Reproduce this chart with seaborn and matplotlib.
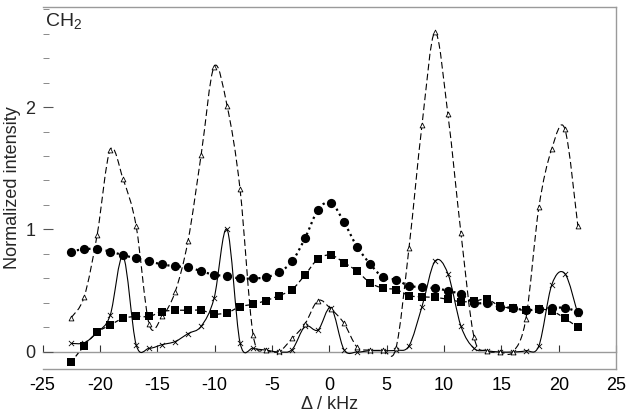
import numpy as np
import matplotlib
matplotlib.use("Agg")
import matplotlib.pyplot as plt
import seaborn as sns
from matplotlib.path import Path
from matplotlib.patches import PathPatch
from matplotlib.ticker import MultipleLocator

# offsets (kHz) shared by all four series
delta = [-22.50, -21.37, -20.24, -19.10, -17.97, -16.84, -15.70, -14.57, -13.44, -12.31,
         -11.17, -10.04, -8.91, -7.78, -6.64, -5.51, -4.38, -3.24, -2.11, -0.98,
         0.15, 1.28, 2.42, 3.55, 4.68, 5.81, 6.95, 8.08, 9.21, 10.34,
         11.48, 12.61, 13.74, 14.87, 16.01, 17.14, 18.27, 19.40, 20.54, 21.67]

circles = [0.82, 0.84, 0.84, 0.82, 0.79, 0.765, 0.74, 0.715, 0.70, 0.69,
           0.66, 0.63, 0.62, 0.60, 0.60, 0.61, 0.65, 0.74, 0.93, 1.16,
           1.22, 1.06, 0.86, 0.72, 0.61, 0.59, 0.54, 0.53, 0.52, 0.50,
           0.47, 0.40, 0.40, 0.37, 0.36, 0.34, 0.35, 0.36, 0.36, 0.33]

squares = [-0.085, 0.05, 0.16, 0.22, 0.275, 0.29, 0.29, 0.33, 0.34, 0.34,
           0.34, 0.31, 0.32, 0.37, 0.39, 0.42, 0.46, 0.51, 0.63, 0.76,
           0.79, 0.73, 0.66, 0.565, 0.52, 0.51, 0.46, 0.45, 0.445, 0.43,
           0.41, 0.415, 0.43, 0.375, 0.355, 0.34, 0.35, 0.335, 0.275, 0.20]

triangles = [0.28, 0.45, 0.955, 1.65, 1.41, 1.03, 0.225, 0.29, 0.49, 0.91,
             1.61, 2.33, 2.01, 1.33, 0.14, 0.02, 0.005, 0.11, 0.23, 0.42,
             0.35, 0.235, 0.04, 0.015, 0.015, 0.03, 0.85, 1.85, 2.61, 1.94,
             0.97, 0.125, 0.01, 0.00, 0.00, 0.27, 1.18, 1.66, 1.82, 1.03]

crosses = [0.07, 0.075, 0.16, 0.30, 0.78, 0.06, 0.03, 0.06, 0.085, 0.15,
           0.21, 0.44, 1.00, 0.076, 0.03, 0.015, 0.0, 0.02, 0.21, 0.18,
           0.36, 0.02, 0.0, 0.01, 0.01, 0.015, 0.05, 0.37, 0.74, 0.64,
           0.21, 0.03, 0.01, 0.0, 0.0, 0.01, 0.05, 0.55, 0.64, 0.31]

x_ticks = [-25, -20, -15, -10, -5, 0, 5, 10, 15, 20, 25]
y_ticks = [0, 1, 2]


def smooth_path(x, y):
    # Excel-style smoothed line: Catmull-Rom segments as cubic Bezier curves
    pts = np.column_stack([x, y])
    n = len(pts)
    verts = [pts[0]]
    codes = [Path.MOVETO]
    for i in range(n - 1):
        p0 = pts[max(i - 1, 0)]
        p1 = pts[i]
        p2 = pts[i + 1]
        p3 = pts[min(i + 2, n - 1)]
        verts += [p1 + (p2 - p0) / 6, p2 - (p3 - p1) / 6, p2]
        codes += [Path.CURVE4] * 3
    return Path(verts, codes)


def add_line(ax, y, **kw):
    patch = PathPatch(smooth_path(delta, y), fill=False, edgecolor="black",
                      capstyle="butt", **kw)
    ax.add_patch(patch)


sns.set_theme(style="white")
plt.rcParams["font.family"] = ["Liberation Sans", "DejaVu Sans"]
plt.rcParams["mathtext.fontset"] = "custom"
plt.rcParams["mathtext.rm"] = "Liberation Sans"
plt.rcParams["mathtext.default"] = "regular"

fig = plt.figure(figsize=(6.29, 4.16), dpi=100)
ax = fig.add_axes([0.0676, 0.113, 0.9118, 0.870])

ymin, ymax = -0.139, 2.816
ax.set_xlim(-25, 25)
ax.set_ylim(ymin, ymax)

# lines first, markers on top
add_line(ax, crosses, linewidth=0.8, linestyle="-", zorder=3)
add_line(ax, triangles, linewidth=0.8, linestyle=(0, (6, 3)), zorder=3)
add_line(ax, squares, linewidth=0.9, linestyle=(0, (3.5, 2.5)), zorder=3)
add_line(ax, circles, linewidth=1.6, linestyle=(0, (1, 1.6)), zorder=3)

sns.scatterplot(x=delta, y=crosses, marker="x", s=14, color="black",
                linewidth=0.6, ax=ax, zorder=4)
sns.scatterplot(x=delta, y=triangles, marker="^", s=12, facecolor="white",
                edgecolor="black", linewidth=0.6, ax=ax, zorder=4)
sns.scatterplot(x=delta, y=squares, marker="s", s=40, color="black",
                edgecolor="black", linewidth=0, ax=ax, zorder=5)
sns.scatterplot(x=delta, y=circles, marker="o", s=44, color="black",
                edgecolor="black", linewidth=0, ax=ax, zorder=5)

# frame
frame_col = "#9a9a9a"
for side in ["top", "right", "bottom"]:
    ax.spines[side].set_color(frame_col)
    ax.spines[side].set_linewidth(1.0)
ax.spines["left"].set_visible(False)

ax.set_xticks(x_ticks)
ax.set_xticklabels([str(t) for t in x_ticks])
ax.tick_params(axis="x", length=0, pad=6, labelsize=13, colors="black")
ax.set_yticks(y_ticks)
ax.yaxis.set_minor_locator(MultipleLocator(0.2))
ax.tick_params(axis="y", which="major", direction="in", length=7, width=0.8,
               color="#555555", pad=5, labelsize=13, left=True)
ax.tick_params(axis="y", which="minor", direction="in", length=4, width=0.6,
               color="#777777", left=True)

# zero line with its own tick marks
zero_pos = (0 - ymin) / (ymax - ymin)
sec = ax.secondary_xaxis(zero_pos)
sec.set_xticks(x_ticks)
sec.tick_params(axis="x", direction="in", length=5, width=0.8, color="#333333",
                labelbottom=False, labeltop=False)
sec.spines["bottom"].set_color(frame_col)
sec.spines["bottom"].set_linewidth(1.0)
sec.spines["top"].set_visible(False)

ax.set_xlabel("Δ / kHz", fontsize=13, labelpad=1)
ax.set_ylabel("Normalized intensity", fontsize=13, labelpad=3)

ax.text(0.004, 0.988, "CH$_2$", transform=ax.transAxes, fontsize=14,
        ha="left", va="top")

fig.savefig("out.png", dpi=100)
